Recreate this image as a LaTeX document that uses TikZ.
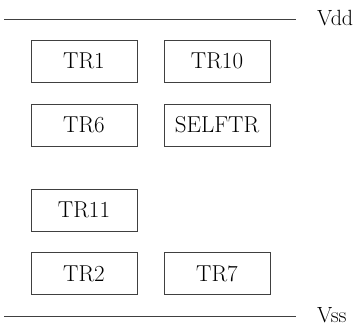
\documentclass[tikz,border=0pt]{standalone}
\usepackage{tikz}
\usetikzlibrary{positioning}

\begin{document}
\begin{tikzpicture}[
  x = 1pt, y = -1pt,
  trbox/.style={draw=black!75, line width=.6pt, minimum width=106pt, minimum height=42pt, inner sep=0pt, font=\fontsize{23}{26}\selectfont},
  rail/.style={draw=black!75, line width=.6pt},
  railname/.style={anchor=west, inner sep=0pt, font=\fontsize{22}{25}\selectfont}
]
%general params
\def\colA{84} %left column
\def\colB{217} %right column
\def\ydd{19} %vdd rail
\def\yss{316} %vss rail
\useasboundingbox (0,0) rectangle (362,326);

%rails
\coordinate (vddL) at (4,\ydd);
\coordinate (vddR) at (296,\ydd);
\node[railname] (vdd) at (317,\ydd - 1) {Vdd};
\draw[rail] (vddL) -- (vddR);

\coordinate (vssL) at (4,\yss);
\coordinate (vssR) at (296,\yss);
\node[railname] (vss) at (317,\yss - 1) {Vss};
\draw[rail] (vssL) -- (vssR);

%transistors
\node[trbox] (tr1)    at (\colA, 61)    {TR1};
\node[trbox] (tr10)   at (\colB, 61)    {TR10};
\node[trbox] (tr6)    at (\colA, 125)   {TR6};
\node[trbox] (selftr) at (\colB, 125)   {SELFTR};
\node[trbox] (tr11)   at (\colA, 210)   {TR11};
\node[trbox] (tr2)    at (\colA, 273.5) {TR2};
\node[trbox] (tr7)    at (\colB, 273.5) {TR7};

\end{tikzpicture}
\end{document}
